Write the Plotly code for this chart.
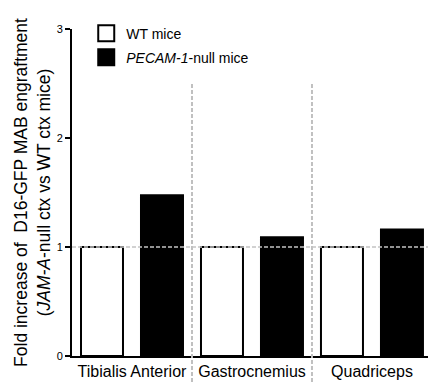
import plotly.graph_objects as go

categories = ["Tibialis Anterior", "Gastrocnemius", "Quadriceps"]
wt_values = [1.0, 1.0, 1.0]
pecam_values = [1.475, 1.09, 1.16]
y_ticks = [0, 1, 2, 3]

FONT = "Liberation Sans, Arial, Helvetica, sans-serif"

fig = go.Figure()
fig.add_trace(go.Bar(
    x=categories, y=wt_values, name="WT mice", showlegend=False,
    marker=dict(color="white", line=dict(color="black", width=2)),
))
fig.add_trace(go.Bar(
    x=categories, y=pecam_values, name="PECAM-1-null mice", showlegend=False,
    marker=dict(color="black", line=dict(color="black", width=2)),
))
# legend entries
fig.add_trace(go.Scatter(
    x=[None], y=[None], mode="markers", name="WT mice", legendgroup="a",
    marker=dict(symbol="square", size=16, color="white", line=dict(color="black", width=2)),
))
fig.add_trace(go.Scatter(
    x=[None], y=[None], mode="markers", name="<i>PECAM-1</i>-null mice", legendgroup="b",
    marker=dict(symbol="square", size=16, color="black", line=dict(color="black", width=2)),
))

x_min, x_max = -0.5, 2.467
span = x_max - x_min
shapes = []
for b in [0.5, 1.5]:
    fx = (b - x_min) / span
    shapes.append(dict(type="line", xref="x domain", yref="y domain",
                       x0=fx, x1=fx, y0=0.832, y1=-0.09,
                       line=dict(color="#c0c0c0", width=2, dash="4px,2px"),
                       layer="above"))
shapes.append(dict(type="line", xref="x domain", yref="y", x0=0, x1=1, y0=1, y1=1,
                   line=dict(color="#c4c4c4", width=1.5, dash="4px,2px"), layer="above"))

fig.update_layout(
    width=428, height=383,
    margin=dict(l=72, r=0, t=29, b=27),
    paper_bgcolor="white", plot_bgcolor="white",
    barmode="group", bargap=0.0, bargroupgap=0.3,
    font=dict(family=FONT, color="black"),
    showlegend=True,
    legend=dict(x=0.04, y=1.035, xanchor="left", yanchor="top",
                font=dict(size=14, family=FONT), tracegroupgap=3,
                bgcolor="rgba(0,0,0,0)", traceorder="grouped"),
    shapes=shapes,
    xaxis=dict(range=[x_min, x_max], showline=True, linecolor="black", linewidth=2,
               ticks="", tickfont=dict(size=16, family=FONT), showgrid=False,
               zeroline=False),
    yaxis=dict(range=[0, 3], tickvals=y_ticks, showline=True, linecolor="black",
               linewidth=2, ticks="outside", ticklen=5, tickwidth=2, tickcolor="black",
               tickfont=dict(size=11, family=FONT), showgrid=False, zeroline=False,
               title=dict(text="Fold increase of  D16-GFP MAB engraftment<br>(<i>JAM-A</i>-null ctx vs WT ctx mice)",
                          font=dict(size=17.5, family=FONT), standoff=2)),
)

fig.write_html("out.html")
